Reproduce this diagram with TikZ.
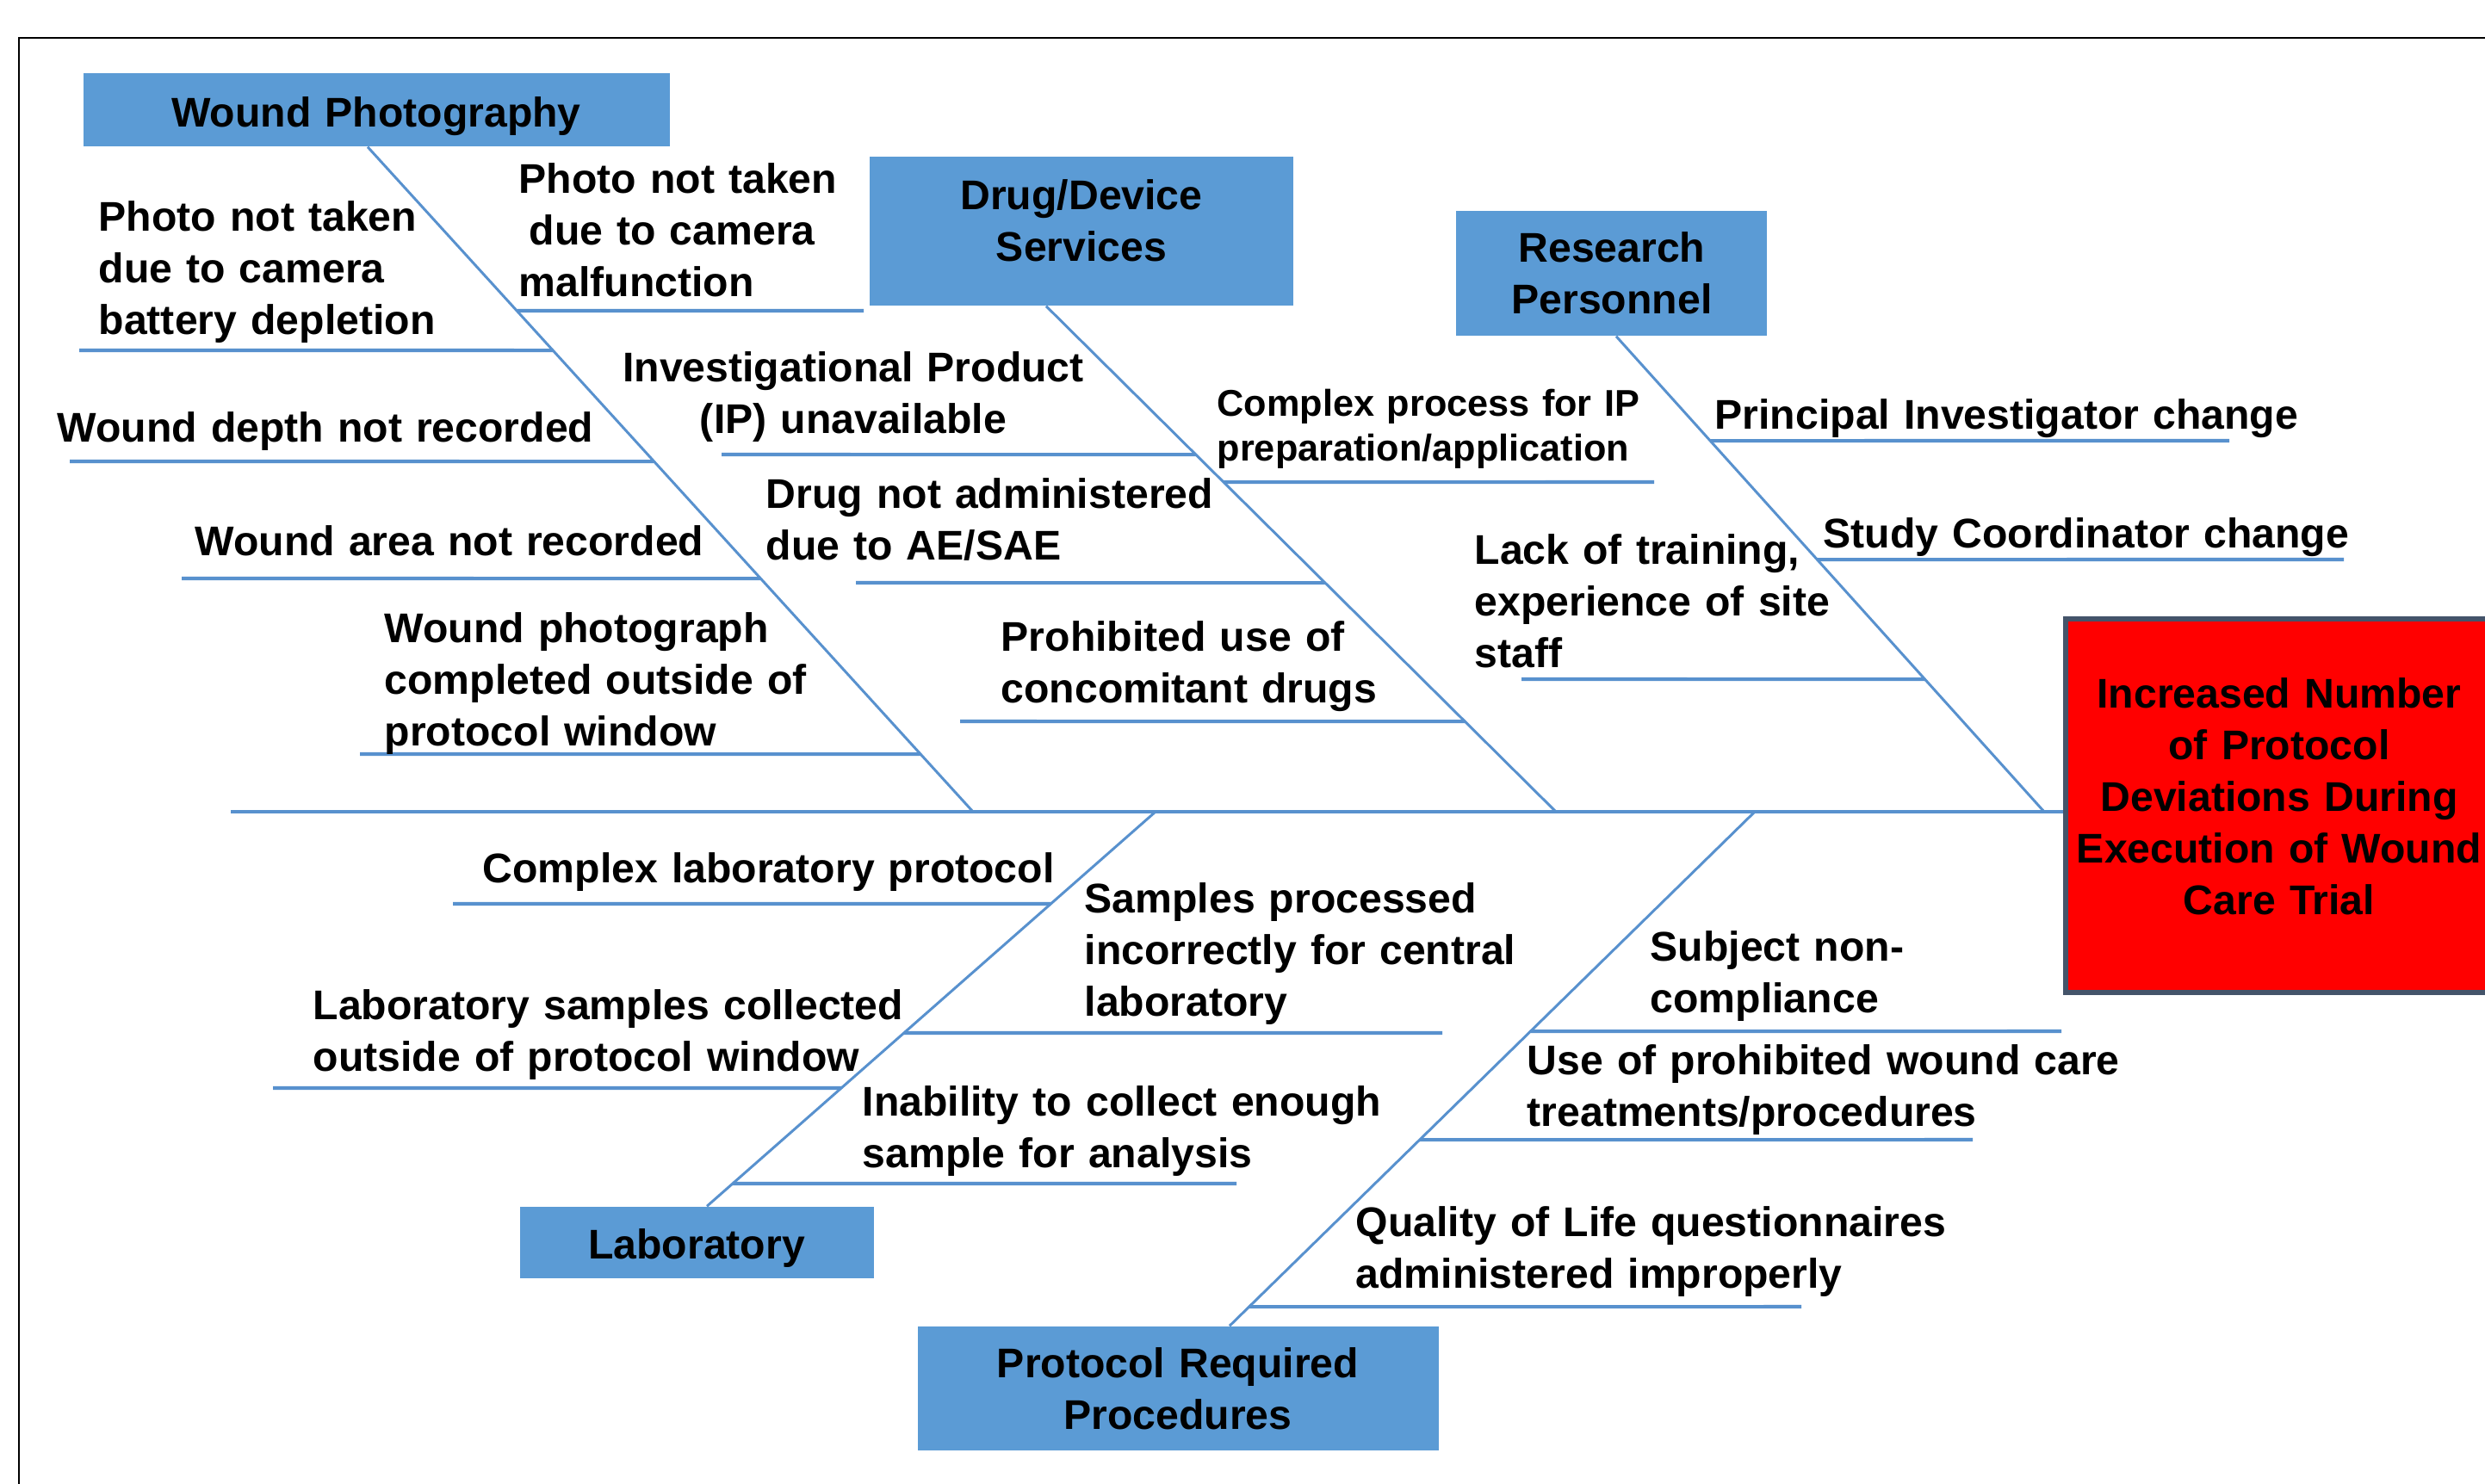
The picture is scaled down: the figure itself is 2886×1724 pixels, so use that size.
\documentclass[tikz,border=0pt]{standalone}
\usepackage{fontspec}
\setmainfont{Liberation Sans}
\usetikzlibrary{fit}

\definecolor{boxblue}{RGB}{91,155,213}
\definecolor{bonecol}{RGB}{88,145,206}
\definecolor{edgegray}{RGB}{68,84,106}

\newcommand\lblfont{\bfseries\fontsize{13.7}{17.07}\selectfont}
\newcommand\smalllblfont{\bfseries\fontsize{12.3}{14.8}\selectfont\spaceskip=0.12em\relax}

% A rib of the fishbone: #1 name, #2/#3 the bone it leaves, #4 its height, #5 its free end
\newcommand\rib[5]{%
  \coordinate (#1-on) at (intersection of #2--#3 and 0,#4--100,#4);
  \coordinate (#1-end) at (#5,#4);
  \draw[ribline] (#1-on) -- (#1-end);}

\begin{document}
\begin{tikzpicture}[x=0.01cm, y=-0.01cm,
  catbox/.style={fill=boxblue, draw=none, inner sep=0pt},
  bone/.style={draw=bonecol, line width=0.85pt},
  spineline/.style={draw=bonecol, line width=1.2pt},
  ribline/.style={draw=bonecol, line width=1.15pt},
  lbl/.style={inner sep=0pt, text width=9cm, align=left, anchor=base west, font=\lblfont},
  ctr/.style={inner sep=0pt, text width=#1, align=center, anchor=base, font=\lblfont},
]
\useasboundingbox (0,0) rectangle (2886,1724);
\clip (0,0) rectangle (2886,1724);
\fill[white] (0,0) rectangle (2886,1724);
\draw[black, line width=0.6pt] (22,44) rectangle (2960,1800);

% category boxes and the effect box
\node[catbox, fit={(97,85) (778,170)}] (wp) {};
\node[catbox, fit={(1010,182) (1502,355)}] (drug) {};
\node[catbox, fit={(1691,245) (2052,390)}] (res) {};
\node[catbox, fit={(604,1402) (1015,1485)}] (lab) {};
\node[catbox, fit={(1066,1541) (1671,1685)}] (proc) {};
\node[fill=red, draw=edgegray, line width=1.7pt, inner sep=0pt,
      fit={(2399,719) (2912,1153)}] (effect) {};

\node[ctr=6cm] (wp-t) at (437,147) {Wound Photography};
\node[ctr=4.5cm] (drug-t) at (1256,243) {Drug/Device\\Services};
\node[ctr=3.5cm] (res-t) at (1872,304) {Research\\Personnel};
\node[ctr=4cm] (lab-t) at (809,1462) {Laboratory};
\node[ctr=5.5cm] (proc-t) at (1368,1600) {Protocol Required\\Procedures};
\node[ctr=5cm] (effect-t) at (2647,822)
  {Increased Number\\of Protocol\\Deviations During\\Execution of Wound\\Care Trial};

% spine
\coordinate (spine-l) at (268,943);
\draw[spineline] (spine-l) -- (spine-l -| effect.west);

% bones
\coordinate (wp-foot) at (wp.south -| 427,0);
\coordinate (wp-join) at (1130,943);
\coordinate (drug-foot) at (drug.south -| 1215,0);
\coordinate (drug-join) at (1807,943);
\coordinate (res-foot) at (res.south -| 1877,0);
\coordinate (res-join) at (2374,943);
\coordinate (lab-join) at (1342,943);
\coordinate (lab-foot) at (lab.north -| 821,0);
\coordinate (proc-join) at (2038,943);
\coordinate (proc-foot) at (proc.north -| 1428,0);
\draw[bone] (wp-foot) -- (wp-join);
\draw[bone] (drug-foot) -- (drug-join);
\draw[bone] (res-foot) -- (res-join);
\draw[bone] (lab-join) -- (lab-foot);
\draw[bone] (proc-join) -- (proc-foot);

% ribs
\rib{w1}{wp-foot}{wp-join}{361}{1003}
\rib{w2}{wp-foot}{wp-join}{407}{92}
\rib{w3}{wp-foot}{wp-join}{536}{81}
\rib{w4}{wp-foot}{wp-join}{672}{211}
\rib{w5}{wp-foot}{wp-join}{876}{418}
\rib{d1}{drug-foot}{drug-join}{528}{838}
\rib{d2}{drug-foot}{drug-join}{560}{1921}
\rib{d3}{drug-foot}{drug-join}{677}{994}
\rib{d4}{drug-foot}{drug-join}{838}{1115}
\rib{r1}{res-foot}{res-join}{512}{2589}
\rib{r2}{res-foot}{res-join}{650}{2722}
\rib{r3}{res-foot}{res-join}{789}{1767}
\rib{l1}{lab-join}{lab-foot}{1050}{526}
\rib{l2}{lab-join}{lab-foot}{1200}{1675}
\rib{l3}{lab-join}{lab-foot}{1264}{317}
\rib{l4}{lab-join}{lab-foot}{1375}{1436}
\rib{p1}{proc-join}{proc-foot}{1198}{2394}
\rib{p2}{proc-join}{proc-foot}{1324}{2291}
\rib{p3}{proc-join}{proc-foot}{1518}{2092}

% causes
\node[lbl] (c-batt) at (114,268) {Photo not taken\\due to camera\\battery depletion};
\node[lbl] (c-malf) at (602,224) {Photo not taken\\\hspace*{0.25em}due to camera\\malfunction};
\node[lbl] (c-depth) at (66,513) {Wound depth not recorded};
\node[lbl] (c-area) at (226,645) {Wound area not recorded};
\node[lbl] (c-photo) at (446,746) {Wound photograph\\completed outside of\\protocol window};
\node[ctr=7cm] (c-ip) at (991,443) {Investigational Product\\(IP) unavailable};
\node[lbl, font=\smalllblfont] (c-prep) at (1413,483) {Complex process for IP\\preparation/application};
\node[lbl] (c-ae) at (889,590) {Drug not administered\\due to AE/SAE};
\node[lbl] (c-conc) at (1162,756) {Prohibited use of\\concomitant drugs};
\node[lbl] (c-pi) at (1991,498) {Principal Investigator change};
\node[lbl] (c-sc) at (2117,636) {Study Coordinator change};
\node[lbl] (c-train) at (1712,655) {Lack of training,\\experience of site\\staff};
\node[lbl] (c-labp) at (560,1025) {Complex laboratory protocol};
\node[lbl] (c-samp) at (1259,1060) {Samples processed\\incorrectly for central\\laboratory};
\node[lbl] (c-labw) at (363,1184) {Laboratory samples collected\\outside of protocol window};
\node[lbl] (c-enough) at (1001,1296) {Inability to collect enough\\sample for analysis};
\node[lbl] (c-subj) at (1916,1116) {Subject non-\\compliance};
\node[lbl] (c-wcare) at (1773,1248) {Use of prohibited wound care\\treatments/procedures};
\node[lbl] (c-qol) at (1574,1436) {Quality of Life questionnaires\\administered improperly};
\end{tikzpicture}
\end{document}
